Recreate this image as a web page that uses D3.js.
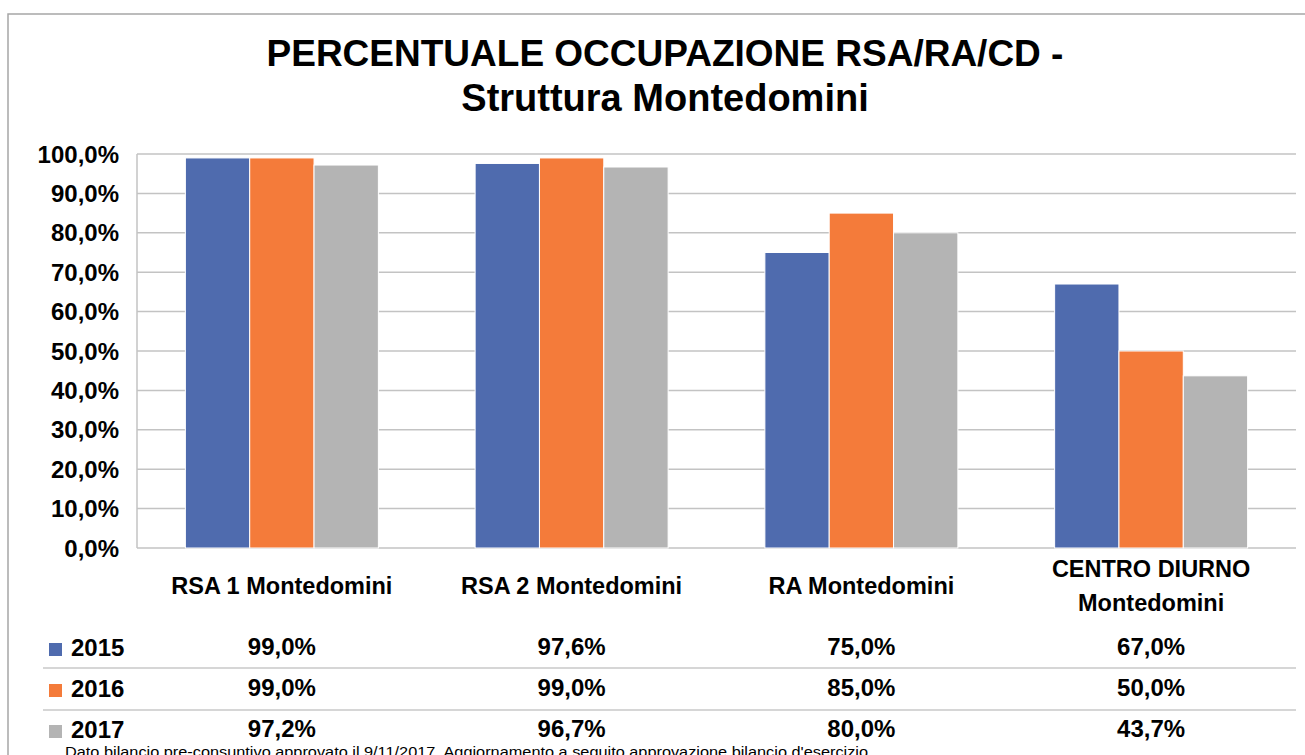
<!DOCTYPE html>
<meta charset="utf-8">
<style>
body { margin: 0; background: #fff; }
text { font-family: "Liberation Sans", Arial, sans-serif; font-weight: bold; fill: #000; }
.grid line { stroke: #c3c3c3; stroke-width: 1.5px; }
.sep { stroke: #c8c8c8; stroke-width: 1.5px; }
</style>
<body>
<script src="https://d3js.org/d3.v7.min.js"></script>
<script>

var categories = ["RSA 1 Montedomini", "RSA 2 Montedomini", "RA Montedomini", "CENTRO DIURNO\nMontedomini"];
var years = ["2015", "2016", "2017"];
var values2015 = [99.0, 97.6, 75.0, 67.0];
var values2016 = [99.0, 99.0, 85.0, 50.0];
var values2017 = [97.2, 96.7, 80.0, 43.7];
var yTicks = [0, 10, 20, 30, 40, 50, 60, 70, 80, 90, 100];
var colours = ["#4f6bae", "#f47b3a", "#b4b4b4"];
var titleLines = ["PERCENTUALE OCCUPAZIONE RSA/RA/CD -", "Struttura Montedomini"];
var note = "Dato bilancio pre-consuntivo approvato il 9/11/2017. Aggiornamento a seguito approvazione bilancio d'esercizio";

var series = [values2015, values2016, values2017];

var width = 1305,
    height = 755,
    plot = {left: 137, right: 1296, top: 154, bottom: 548};

var it = d3.formatLocale({decimal: ",", thousands: ".", grouping: [3], currency: ["", "€"]});
var pct = function (v) { return it.format(".1f")(v) + "%"; };

var svg = d3.select("body").append("svg")
    .attr("width", width)
    .attr("height", height);

// outer frame (only top and left edges are visible)
svg.append("path")
    .attr("d", "M8," + (height + 2) + "V14H" + (width + 2))
    .attr("fill", "none")
    .attr("stroke", "#a6a6a6")
    .attr("stroke-width", 1.5);

svg.selectAll(".title")
    .data(titleLines)
    .enter()
    .append("text")
    .attr("class", "title")
    .attr("x", 665)
    .attr("y", function (d, i) { return 66 + i * 45; })
    .attr("text-anchor", "middle")
    .attr("font-size", function (d, i) { return i ? 38 : 37; })
    .text(function (d) { return d; });

var x0 = d3.scaleBand()
    .domain(d3.range(categories.length))
    .range([plot.left, plot.right]);

var x1 = d3.scaleBand()
    .domain(d3.range(years.length))
    .range([0, 193]);

var y = d3.scaleLinear()
    .domain([0, 100])
    .range([plot.bottom, plot.top]);

// gridlines
svg.append("g")
    .attr("class", "grid")
    .selectAll("line")
    .data(yTicks)
    .enter()
    .append("line")
    .attr("x1", plot.left)
    .attr("x2", plot.right)
    .attr("y1", function (d) { return y(d); })
    .attr("y2", function (d) { return y(d); });

svg.append("line")
    .attr("x1", plot.left).attr("x2", plot.left)
    .attr("y1", plot.top).attr("y2", plot.bottom)
    .attr("stroke", "#c3c3c3")
    .attr("stroke-width", 1.5);

// y labels
svg.selectAll(".ylab")
    .data(yTicks)
    .enter()
    .append("text")
    .attr("class", "ylab")
    .attr("x", 119)
    .attr("y", function (d) { return y(d); })
    .attr("dy", "0.36em")
    .attr("text-anchor", "end")
    .attr("font-size", 24)
    .text(function (d) { return pct(d); });

// bars
var groups = svg.selectAll(".grp")
    .data(categories)
    .enter()
    .append("g")
    .attr("class", "grp")
    .attr("transform", function (d, i) {
        return "translate(" + (x0(i) + x0.bandwidth() / 2 - 96.5) + ",0)";
    });

groups.selectAll("rect")
    .data(function (d, i) { return series.map(function (s, k) { return {k: k, v: s[i]}; }); })
    .enter()
    .append("rect")
    .attr("x", function (d) { return x1(d.k); })
    .attr("width", x1.bandwidth())
    .attr("y", function (d) { return y(d.v); })
    .attr("height", function (d) { return plot.bottom - y(d.v); })
    .attr("fill", function (d) { return colours[d.k]; })
    .attr("stroke", "#fff")
    .attr("stroke-width", 1);

// category labels
svg.selectAll(".cat")
    .data(categories)
    .enter()
    .append("text")
    .attr("class", "cat")
    .attr("text-anchor", "middle")
    .attr("font-size", 23.5)
    .each(function (d, i) {
        var lines = d.split("\n");
        var t = d3.select(this);
        lines.forEach(function (l, j) {
            t.append("tspan")
                .attr("x", x0(i) + x0.bandwidth() / 2)
                .attr("y", (lines.length > 1 ? 577 : 594) + j * 34)
                .text(l);
        });
    });

// data table
var rowY = [656, 697, 738];

svg.selectAll(".sep")
    .data([668, 710])
    .enter()
    .append("line")
    .attr("class", "sep")
    .attr("x1", 43).attr("x2", plot.right)
    .attr("y1", function (d) { return d; })
    .attr("y2", function (d) { return d; });

years.forEach(function (yr, k) {
    svg.append("rect")
        .attr("x", 49)
        .attr("y", rowY[k] - 13)
        .attr("width", 13)
        .attr("height", 13)
        .attr("fill", colours[k]);
    svg.append("text")
        .attr("x", 71)
        .attr("y", rowY[k])
        .attr("font-size", 24)
        .text(yr);
    svg.selectAll(".v" + k)
        .data(series[k])
        .enter()
        .append("text")
        .attr("x", function (d, i) { return x0(i) + x0.bandwidth() / 2; })
        .attr("y", rowY[k] - 1)
        .attr("text-anchor", "middle")
        .attr("font-size", 24)
        .text(function (d) { return pct(d); });
});

svg.append("text")
    .attr("x", 65)
    .attr("y", 757)
    .attr("font-size", 14)
    .style("font-weight", "normal")
    .style("font-family", "'Liberation Sans Narrow', 'Arial Narrow', sans-serif")
    .attr("textLength", 803)
    .attr("lengthAdjust", "spacingAndGlyphs")
    .text(note);

</script>
